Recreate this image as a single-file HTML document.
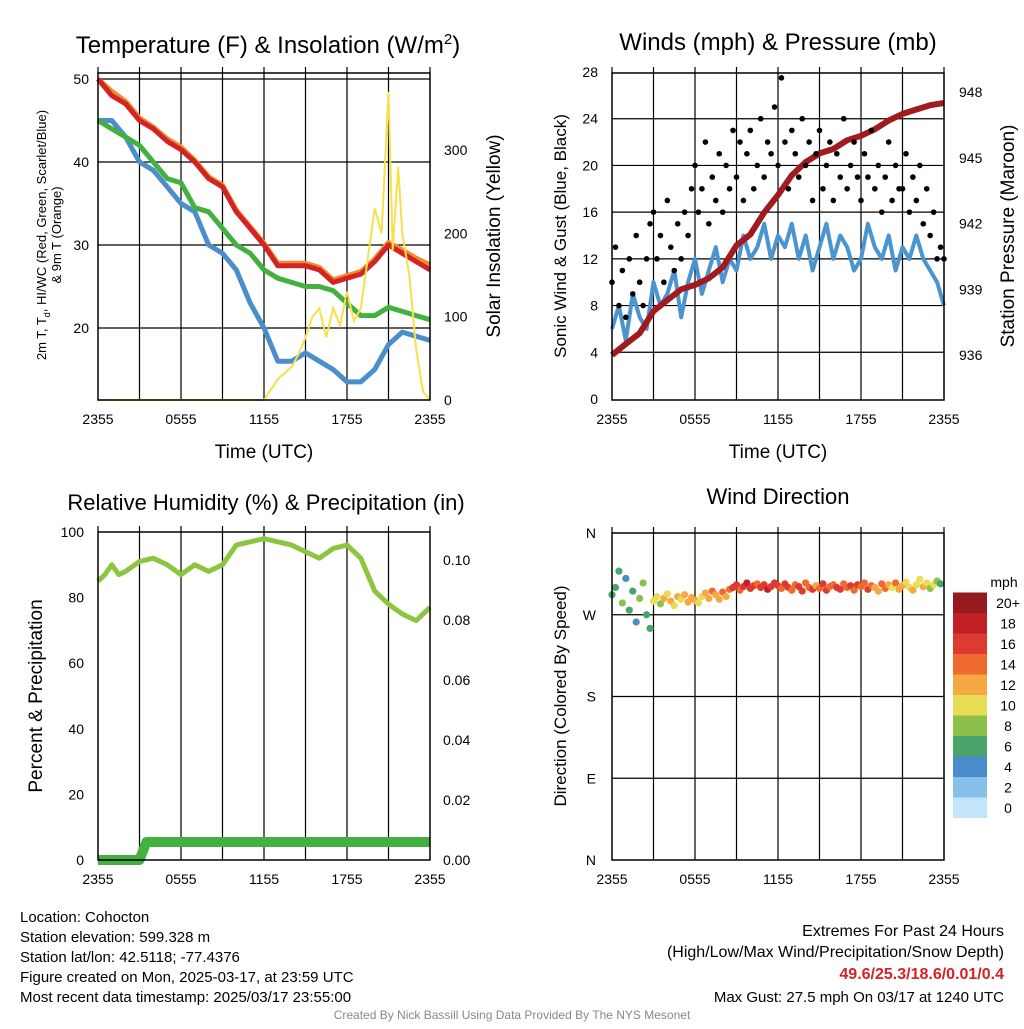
<!DOCTYPE html>
<html><head><meta charset="utf-8">
<style>
body{margin:0;background:#fff;}
svg{font-family:"Liberation Sans",sans-serif;}
</style></head>
<body>
<svg id="fig" width="1024" height="1024" viewBox="0 0 1024 1024"></svg>
<script>
// ---------- DATA ----------
const hourly = [0,1,2,3,4,5,6,7,8,9,10,11,12,13,14,15,16,17,18,19,20,21,22,23,24];
const tempRed = [50,48,47,45,44,42.5,41.5,40,38,37,34,32,30,27.5,27.5,27.5,27,25.5,26,26.5,28,30,29,28,27];
const tempOrange = [50,48.5,47.3,45.3,44.2,42.8,41.8,40.2,38.2,37.2,34.2,32.2,30.2,27.8,27.8,27.8,27.3,25.8,26.3,26.8,28.3,30.3,29.4,28.4,27.6];
const dewGreen = [45,44,43,42,40,38,37.5,34.5,34,32,30,29,27,26,25.5,25,25,24.5,23,21.5,21.5,22.5,22,21.5,21];
const wcBlue = [45,45,43,40,39,37,35,34,30,29,27,23,20,16,16,17,16,15,13.5,13.5,15,18,19.5,19,18.5];
const solarT = [0,12,13,14,14.5,15,15.5,16,16.5,17,17.5,18,18.5,19,19.5,20,20.5,21,21.3,21.7,22,22.5,23,23.5,24];
const solarV = [0,0,25,40,55,75,100,110,75,110,90,130,95,110,170,230,200,370,180,280,200,150,60,10,0];
const tempTicks = [20,30,40,50];
const solarTicks = [0,100,200,300];
const timeLabels = ["2355","0555","1155","1755","2355"];

const pressT = hourly;
const pressV = [936,936.5,937,938,938.5,939,939.2,939.5,940,941,941.5,942.5,943.3,944.2,944.8,945.2,945.4,945.8,946,946.3,946.7,947,947.2,947.4,947.5];
const windV = [6,8,5,9,7,6,10,8,9,11,7,10,12,9,11,13,10,12,11,14,12,13,15,12,14,13,15,12,14,11,13,15,12,14,13,11,12,15,13,12,14,11,13,12,14,12,11,10,8];
const gustV = [10,13,8,11,7,12,9,14,10,8,12,15,16,12,14,10,17,13,11,15,12,16,14,18,20,16,18,22,15,19,17,21,16,20,18,23,19,22,17,21,23,18,20,24,19,22,21,25,20,27.5,22,18,23,21,19,24,20,22,17,21,23,18,20,22,17,21,19,24,18,20,22,19,17,21,19,23,18,20,16,19,22,17,20,18,18,21,16,19,17,20,15,18,14,16,12,13,12];
const windTicks = [0,4,8,12,16,20,24,28];
const pressTicks = [936,939,942,945,948];

const rhT = [0,0.5,1,1.5,2,3,4,5,6,7,8,9,10,11,12,13,14,15,16,17,18,19,20,21,22,23,24];
const rhV = [85,87,90,87,88,91,92,90,87,90,88,90,96,97,98,97,96,94,92,95,96,92,82,78,75,73,77];
const precT = [0,3,3.5,24];
const precV = [0,0,0.006,0.006];
const rhTicks = [0,20,40,60,80,100];
const precTicks = [0,0.02,0.04,0.06,0.08,0.10];

const dirV = [292,300,318,283,310,275,296,262,288,305,270,255,285,290,282,288,293,285,280,290,287,292,284,289,
286,283,290,294,288,296,292,287,295,290,298,300,303,297,301,305,299,302,304,300,303,298,301,305,
302,299,304,300,297,303,301,296,305,300,298,302,299,304,297,301,303,300,298,304,300,302,297,303,
301,305,298,302,300,296,304,299,303,300,305,298,302,306,300,297,303,309,301,305,299,303,307,304];
const spdV = [6,7,6,8,5,7,6,4,9,8,7,6,10,11,9,12,11,12,10,12,11,13,12,12,
12,11,10,13,12,14,13,12,14,13,15,16,17,15,16,18,16,17,15,16,17,18,16,17,
16,15,17,16,14,15,16,17,15,14,16,13,15,17,16,14,15,16,17,15,14,16,15,16,
15,14,16,15,12,13,15,14,12,11,14,13,12,11,10,12,11,10,12,10,9,11,8,7];
const dirTicks = [0,90,180,270,360];
const dirLabels = ["N","E","S","W","N"];
const cbLabels = ["0","2","4","6","8","10","12","14","16","18","20+"];
const cbColors = ["#c2e6f8","#86c1ea","#4a8ccb","#4ba46c","#8cc04a","#e8dd55","#f6a843","#ef6a2e","#de3a2f","#c32026","#951b1e"];

// ---------- HELPERS ----------
const NS="http://www.w3.org/2000/svg";
const svg=document.getElementById('fig');
function mk(tag,attrs,parent){const e=document.createElementNS(NS,tag);for(const k in attrs)e.setAttribute(k,attrs[k]);(parent||svg).appendChild(e);return e;}
function txt(x,y,s,size,anchor,parent,extra){const e=mk('text',Object.assign({x:x,y:y,'font-size':size,'text-anchor':anchor||'middle',fill:'#000'},extra||{}),parent);e.textContent=s;return e;}
function lin(d0,d1,r0,r1){return v=>r0+(v-d0)*(r1-r0)/(d1-d0);}
function pathOf(xs,ys,fx,fy){return xs.map((t,i)=>(i?'L':'M')+fx(t).toFixed(1)+','+fy(ys[i]).toFixed(1)).join('');}

function frame(L,T,R,B,name,vgrid,hgridVals,fy){
  const g=mk('g',{});
  
  
  if(vgrid){for(let h=3;h<24;h+=3){const x=L+(R-L)*h/24;mk('line',{x1:x,y1:T-6,x2:x,y2:B,stroke:'#000','stroke-width':1.2},g);}
    [L,R].forEach(x=>mk('line',{x1:x,y1:T-6,x2:x,y2:T,stroke:'#000','stroke-width':1.2},g));}
  hgridVals.forEach(v=>mk('line',{x1:L,y1:fy(v),x2:R,y2:fy(v),stroke:'#000','stroke-width':1.2},g));
  return g;
}
function border(L,T,R,B,name){const r=mk('rect',{x:L,y:T,width:R-L,height:B-T,fill:'none',stroke:'#000','stroke-width':1.5});
  }
function xlabels(L,R,B,name){const g=mk('g',{});
  timeLabels.forEach((s,i)=>txt(L+(R-L)*i/4,B+24,s,14,'middle',g));}

// ---------- PANEL 1 ----------
{const L=98,T=73,R=430,B=400;
 const fx=lin(0,24,L,R), fy=lin(20,30,328,245), fs=lin(0,100,400,316.7);
 frame(L,T,R,B,'temperature',true,[20,30,40,50],fy);
 const t=txt(268,53,'Temperature (F) & Insolation (W/m',24,'middle');
 const sup=mk('tspan',{dy:-9,'font-size':15},t);sup.textContent='2';const cl=mk('tspan',{dy:9},t);cl.textContent=')';
 const series=[[wcBlue,'#4a8fcb','wind-chill-line'],[dewGreen,'#43b13f','dewpoint-line'],[tempOrange,'#f28a2e','9m-temp-line'],[tempRed,'#d42325','2m-temp-line']];
 series.forEach(s=>{const p=mk('path',{d:pathOf(hourly,s[0],fx,fy),fill:'none',stroke:s[1],'stroke-width':5,'stroke-linejoin':'round'});
   });
 const sp=mk('path',{d:pathOf(solarT,solarV,fx,fs),fill:'none',stroke:'#f8e04a','stroke-width':2});
 
 border(L,T,R,B,'temperature');
 const gy=mk('g',{});
 tempTicks.forEach(v=>txt(L-9,fy(v)+5,String(v),14,'end',gy));
 const gs=mk('g',{});
 solarTicks.forEach(v=>txt(R+14,fs(v)+5,String(v),14,'start',gs));
 xlabels(L,R,B,'temperature');
 const xt=txt(264,458,'Time (UTC)',19);
 const yt=mk('text',{transform:'translate(46,235) rotate(-90)','font-size':13,'text-anchor':'middle'});
 
 const a=mk('tspan',{x:0,dy:0},yt);a.textContent='2m T, T';const d=mk('tspan',{dy:4,'font-size':9},yt);d.textContent='d';
 const b=mk('tspan',{dy:-4},yt);b.textContent=', HI/WC (Red, Green, Scarlet/Blue)';
 const c=mk('tspan',{x:0,dy:15},yt);c.textContent='& 9m T (Orange)';
 const st=mk('text',{transform:'translate(500,236) rotate(-90)','font-size':19,'text-anchor':'middle'});st.textContent='Solar Insolation (Yellow)';
 
}
// ---------- PANEL 2 ----------
{const L=612,T=73,R=944,B=400;
 const fx=lin(0,24,L,R), fy=lin(0,28,399,72), fp=lin(936,948,355,92);
 frame(L,T,R,B,'winds',true,[4,8,12,16,20,24],fy);
 const t=txt(778,50,'Winds (mph) & Pressure (mb)',24);
 const wt=windV.map((v,i)=>i*0.5);
 const wp=mk('path',{d:pathOf(wt,windV,fx,fy),fill:'none',stroke:'#4a94d0','stroke-width':4,'stroke-linejoin':'round'});
 
 const pp=mk('path',{d:pathOf(pressT,pressV,fx,fp),fill:'none',stroke:'#a01a1e','stroke-width':6,'stroke-linejoin':'round'});
 
 const gg=mk('g',{});
 gustV.forEach((v,i)=>{const c=mk('circle',{cx:fx(i*0.25),cy:fy(v),r:2.8,fill:'#000'},gg);
   });
 border(L,T,R,B,'winds');
 const gy=mk('g',{});
 windTicks.forEach(v=>txt(L-14,fy(v)+5,String(v),14,'end',gy));
 const gp=mk('g',{});
 pressTicks.forEach(v=>txt(R+15,fp(v)+5,String(v),14,'start',gp));
 xlabels(L,R,B,'winds');
 const xt=txt(778,458,'Time (UTC)',19);
 const yt=mk('text',{transform:'translate(566,236) rotate(-90)','font-size':17,'text-anchor':'middle'});yt.textContent='Sonic Wind & Gust (Blue, Black)';
 
 const pt=mk('text',{transform:'translate(1014,236) rotate(-90)','font-size':19,'text-anchor':'middle'});pt.textContent='Station Pressure (Maroon)';
 
}
// ---------- PANEL 3 ----------
{const L=98,T=532,R=430,B=860;
 const fx=lin(0,24,L,R), fy=lin(0,100,860,532), fq=lin(0,0.02,860,800);
 frame(L,T,R,B,'humidity',true,[],fy);
 const t=txt(266,510,'Relative Humidity (%) & Precipitation (in)',22);
 const rp=mk('path',{d:pathOf(rhT,rhV,fx,fy),fill:'none',stroke:'#8cc63f','stroke-width':5,'stroke-linejoin':'round'});
 
 const pp=mk('path',{d:pathOf(precT,precV,fx,fq),fill:'none',stroke:'#43b13f','stroke-width':10,'stroke-linejoin':'round'});
 
 border(L,T,R,B,'humidity');
 const gy=mk('g',{});
 rhTicks.forEach(v=>txt(L-14,fy(v)+5,String(v),14,'end',gy));
 const gq=mk('g',{});
 precTicks.forEach(v=>txt(R+13,fq(v)+5,v.toFixed(2),14,'start',gq));
 xlabels(L,R,B,'humidity');
 const yt=mk('text',{transform:'translate(42,696) rotate(-90)','font-size':19,'text-anchor':'middle'});yt.textContent='Percent & Precipitation';
 
}
// ---------- PANEL 4 ----------
{const L=612,T=533,R=944,B=860;
 const fx=lin(0,24,L,R), fy=lin(0,360,860,533);
 frame(L,T,R,B,'wind-direction',true,[90,180,270],fy);
 const t=txt(778,504,'Wind Direction',22);
 const gd=mk('g',{});
 dirV.forEach((v,i)=>{const ci=Math.min(10,Math.floor(spdV[i]/2));
   const c=mk('circle',{cx:fx(i*0.25),cy:fy(v),r:3.6,fill:cbColors[ci]},gd);
   });
 border(L,T,R,B,'wind-direction');
 const gy=mk('g',{});
 dirTicks.forEach((v,i)=>txt(L-16,fy(v)+5,dirLabels[i],14,'end',gy));
 xlabels(L,R,B,'wind-direction');
 const yt=mk('text',{transform:'translate(566,696) rotate(-90)','font-size':17,'text-anchor':'middle'});yt.textContent='Direction (Colored By Speed)';
 
 const cb=mk('g',{});
 const bh=20.5, btm=818;
 cbColors.forEach((c,i)=>{const r=mk('rect',{x:953,y:btm-(i+1)*bh,width:34,height:bh,fill:c},cb);
   
   txt(1008,btm-i*bh-bh/2+5,cbLabels[i],14,'middle',cb);});
 const u=txt(1004,587,'mph',14);
}
// ---------- FOOTER ----------
{const g=mk('g',{});
 ["Location: Cohocton","Station elevation: 599.328 m","Station lat/lon: 42.5118; -77.4376","Figure created on Mon, 2025-03-17, at 23:59 UTC","Most recent data timestamp: 2025/03/17 23:55:00"]
 .forEach((s,i)=>txt(20,922+i*20,s,15,'start',g));
 const e=mk('g',{});
 txt(1004,936,'Extremes For Past 24 Hours',16,'end',e);
 txt(1004,957,'(High/Low/Max Wind/Precipitation/Snow Depth)',16,'end',e);
 txt(1004,979,'49.6/25.3/18.6/0.01/0.4',16,'end',e,{fill:'#d42325','font-weight':'bold'});
 txt(1004,1002,'Max Gust: 27.5 mph On 03/17 at 1240 UTC',15,'end',e);
 const c=txt(512,1019,'Created By Nick Bassill Using Data Provided By The NYS Mesonet',12,'middle',null,{fill:'#888'});
 
}
</script>
</body></html>
